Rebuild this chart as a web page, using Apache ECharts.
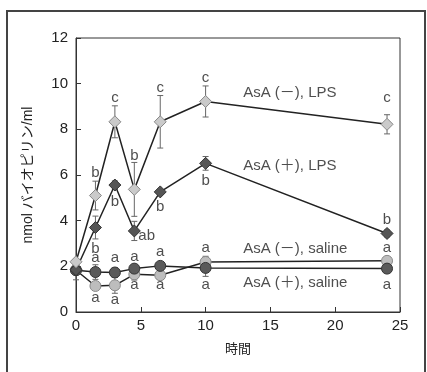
<!DOCTYPE html>
<html>
<head>
<meta charset="utf-8">
<script src="https://cdn.jsdelivr.net/npm/echarts@6/dist/echarts.min.js"></script>
<style>
  html, body { margin: 0; padding: 0; background: #fff; }
  #chart { width: 427px; height: 372px; }
</style>
</head>
<body>
<div id="chart"></div>
<script>
// time points (h)
const hours = [0, 1.5, 3, 4.5, 6.5, 10, 24];

// mean values and +/- error
const lpsMinus = [2.2, 5.1, 8.33, 5.37, 8.33, 9.22, 8.22];
const lpsMinusErr = [0.1, 0.63, 0.7, 1.18, 1.15, 0.68, 0.42];
const lpsPlus = [1.85, 3.7, 5.56, 3.55, 5.26, 6.51, 3.44];
const lpsPlusErr = [0, 0.5, 0.18, 0.42, 0.1, 0.3, 0.15];
const salMinus = [1.83, 1.14, 1.17, 1.65, 1.61, 2.19, 2.24];
const salMinusErr = [0, 0.1, 0.35, 0.25, 0.05, 0.25, 0.05];
const salPlus = [1.83, 1.75, 1.73, 1.9, 2.02, 1.93, 1.9];
const salPlusErr = [0.42, 0.32, 0.2, 0.12, 0.15, 0.37, 0.05];

// significance letters: [x, y, letter]
const letters = [
  [1.5, 6.1, 'b'], [3, 9.4, 'c'], [4.5, 6.84, 'b'], [6.5, 9.82, 'c'], [10, 10.24, 'c'], [24, 9.36, 'c'],
  [1.5, 2.78, 'b'], [3, 4.82, 'b'], [5.45, 3.32, 'ab'], [6.5, 4.61, 'b'], [10, 5.75, 'b'], [24, 4.05, 'b'],
  [1.5, 2.36, 'a'], [3, 2.36, 'a'], [4.5, 2.4, 'a'], [6.5, 2.62, 'a'], [10, 2.79, 'a'], [24, 2.79, 'a'],
  [1.5, 0.64, 'a'], [3, 0.51, 'a'], [4.5, 1.17, 'a'], [6.5, 1.17, 'a'], [10, 1.17, 'a'], [24, 1.17, 'a']
];

// series name labels: [x, y, text]
const seriesLabels = [
  [12.9, 9.59, 'AsA (－), LPS'],
  [12.9, 6.39, 'AsA (＋), LPS'],
  [12.9, 2.75, 'AsA (－), saline'],
  [12.9, 1.26, 'AsA (＋), saline']
];

const xTicks = [0, 5, 10, 15, 20, 25];
const yTicks = [0, 2, 4, 6, 8, 10, 12];

const FONT = '"Liberation Sans", Arial, "Noto Sans CJK JP", sans-serif';

function pairs(ys) {
  return hours.map((h, i) => [h, ys[i]]);
}

function errData(ys, errs) {
  return hours.map((h, i) => [h, ys[i] - errs[i], ys[i] + errs[i]]);
}

function errSeries(ys, errs) {
  return {
    type: 'custom',
    z: 1,
    data: errData(ys, errs),
    renderItem(params, api) {
      const x = api.value(0);
      const lo = api.coord([x, api.value(1)]);
      const hi = api.coord([x, api.value(2)]);
      const cap = 3;
      const style = { stroke: '#666', lineWidth: 1 };
      return {
        type: 'group',
        children: [
          { type: 'line', shape: { x1: lo[0], y1: lo[1], x2: hi[0], y2: hi[1] }, style },
          { type: 'line', shape: { x1: lo[0] - cap, y1: lo[1], x2: lo[0] + cap, y2: lo[1] }, style },
          { type: 'line', shape: { x1: hi[0] - cap, y1: hi[1], x2: hi[0] + cap, y2: hi[1] }, style }
        ]
      };
    }
  };
}

function lineSeries(ys, symbol, size, fill, border) {
  return {
    type: 'line',
    z: 3,
    data: pairs(ys),
    symbol,
    symbolSize: size,
    showSymbol: true,
    lineStyle: { color: '#222', width: 1.5 },
    itemStyle: { color: fill, borderColor: border, borderWidth: 1 }
  };
}

const chart = echarts.init(document.getElementById('chart'), null, { renderer: 'canvas' });

chart.setOption({
  animation: false,
  textStyle: { fontFamily: FONT },
  graphic: [{
    type: 'rect',
    shape: { x: 7, y: 11, width: 418, height: 400 },
    style: { fill: 'none', stroke: '#444', lineWidth: 2 },
    silent: true
  }],
  grid: {
    left: 76, right: 27, top: 38, bottom: 60,
    show: true, borderColor: '#333', borderWidth: 1, backgroundColor: 'transparent'
  },
  xAxis: {
    type: 'value',
    min: 0, max: 25, interval: 5,
    name: '時間',
    nameLocation: 'middle',
    nameGap: 31,
    nameTextStyle: { fontSize: 13, color: '#222', fontFamily: FONT },
    axisLine: { lineStyle: { color: '#333', width: 1 } },
    axisTick: { inside: true, length: 5, lineStyle: { color: '#333' } },
    axisLabel: { fontSize: 15, color: '#222', margin: 6, fontFamily: FONT,
      formatter: v => xTicks.includes(v) ? String(v) : '' },
    splitLine: { show: false }
  },
  yAxis: {
    type: 'value',
    min: 0, max: 12, interval: 2,
    name: 'nmol バイオピリン/ml',
    nameLocation: 'middle',
    nameGap: 41,
    nameTextStyle: { fontSize: 14, color: '#222', fontFamily: FONT },
    axisLine: { show: true, lineStyle: { color: '#333', width: 1 } },
    axisTick: { show: true, inside: true, length: 5, lineStyle: { color: '#333' } },
    axisLabel: { fontSize: 15, color: '#222', margin: 8, fontFamily: FONT,
      formatter: v => yTicks.includes(v) ? String(v) : '' },
    splitLine: { show: false }
  },
  series: [
    errSeries(lpsMinus, lpsMinusErr),
    errSeries(lpsPlus, lpsPlusErr),
    errSeries(salMinus, salMinusErr),
    errSeries(salPlus, salPlusErr),
    lineSeries(salMinus, 'circle', 11, '#bdbdbd', '#888'),
    lineSeries(salPlus, 'circle', 11, '#5a5a5a', '#333'),
    lineSeries(lpsPlus, 'diamond', 12, '#555', '#333'),
    lineSeries(lpsMinus, 'diamond', 12, '#cacaca', '#888'),
    {
      type: 'scatter',
      z: 5,
      symbolSize: 0,
      data: letters,
      label: {
        show: true, position: 'inside', fontSize: 15, color: '#222', fontFamily: FONT,
        formatter: p => p.value[2]
      }
    },
    {
      type: 'scatter',
      z: 5,
      symbolSize: 0,
      data: seriesLabels,
      label: {
        show: true, position: 'inside', align: 'left', fontSize: 15, color: '#222', fontFamily: FONT,
        formatter: p => p.value[2]
      }
    }
  ]
});
</script>
</body>
</html>
